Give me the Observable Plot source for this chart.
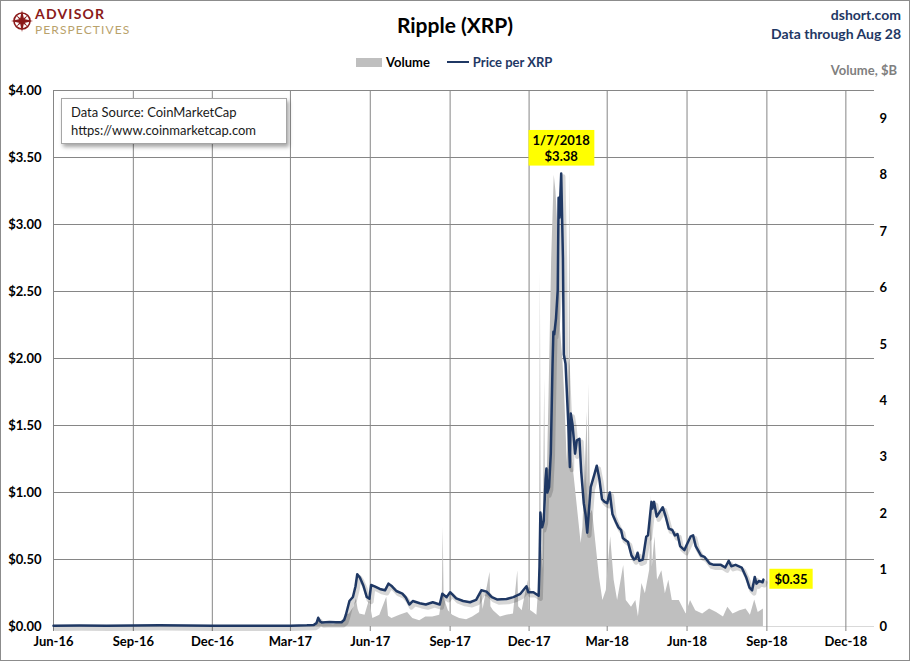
<!DOCTYPE html>
<html>
<head>
<meta charset="utf-8">
<script src="https://cdn.jsdelivr.net/npm/d3@7"></script>
<script src="https://cdn.jsdelivr.net/npm/@observablehq/plot@0.6"></script>
<style>
  html, body { margin: 0; padding: 0; background: #fff; }
  body { font-family: Lato, "Open Sans", "DejaVu Sans", sans-serif; }
  #wrap { position: relative; width: 908px; height: 659px; border: 1px solid #8c8c8c; background: #fff; overflow: hidden; }
  #header { position: relative; height: 80px; }
  .abs { position: absolute; white-space: nowrap; }
  #title { left: 0; width: 908px; top: 11px; text-align: center; font-size: 21px; font-weight: bold; color: #000; }
  #site { right: 8px; top: 4px; text-align: right; font-size: 14px; font-weight: bold; color: #1f3864; line-height: 19px; }
  #legend { left: 355px; top: 53px; font-size: 13px; font-weight: bold; display: flex; align-items: center; }
  #voltitle { right: 12px; top: 61px; font-size: 13px; font-weight: bold; color: #7f7f7f; }
  #source { left: 60px; top: 97px; width: 226px; height: 46px; border: 1px solid #a6a6a6; background: #fff;
            box-shadow: 2px 3px 4px rgba(0,0,0,0.35); font-size: 13px; color: #1a1a1a; line-height: 18px;
            padding: 4px 0 0 9px; box-sizing: border-box; z-index: 2; }
  #chart { position: relative; }
</style>
</head>
<body>
<div id="wrap">
  <div id="header">
    <div class="abs" style="left:10px;top:9px;">
      <svg width="22" height="22" viewBox="-11 -11 22 22">
        <circle r="8" fill="none" stroke="#8b1a1a" stroke-width="1.6"/>
        <polygon points="0,-11 2,-2 11,0 2,2 0,11 -2,2 -11,0 -2,-2" fill="#8b1a1a"/>
        <polygon points="-6,-6 0,-1.5 6,-6 1.5,0 6,6 0,1.5 -6,6 -1.5,0" fill="#8b1a1a"/>
      </svg>
    </div>
    <div class="abs" style="left:34px;top:4px;font-size:14px;line-height:17px;font-weight:bold;color:#8b1a1a;letter-spacing:1.2px;">ADVISOR</div>
    <div class="abs" style="left:34px;top:22px;font-size:12px;line-height:14px;color:#b9a26b;letter-spacing:1.1px;">PERSPECTIVES</div>
    <div class="abs" id="title">Ripple (XRP)</div>
    <div class="abs" id="site">dshort.com<br>Data through Aug 28</div>
    <div class="abs" id="legend">
      <span style="display:inline-block;width:26px;height:9px;background:#bfbfbf;margin-right:4px;"></span>
      <span style="color:#000;">Volume</span>
      <span style="display:inline-block;width:22px;height:2px;background:#1f3864;margin-left:17px;margin-right:4px;"></span>
      <span style="color:#1f3864;">Price per XRP</span>
    </div>
    <div class="abs" id="voltitle">Volume, $B</div>
  </div>
  <div class="abs" id="source">Data Source: CoinMarketCap<br>https://www.coinmarketcap.com</div>
  <div id="chart"></div>
</div>
<script>
// ---- data ----
const xTicks = ["2016-06-01","2016-09-01","2016-12-01","2017-03-01","2017-06-01","2017-09-01","2017-12-01","2018-03-01","2018-06-01","2018-09-01","2018-12-01"];
const xDomain = ["2016-06-01","2019-01-03"];
const leftTicks = [0, 0.5, 1, 1.5, 2, 2.5, 3, 3.5, 4];
const rightTicks = [0, 1, 2, 3, 4, 5, 6, 7, 8, 9];
const priceMax = 4;
const volMax = 9.5;

const priceDates = [
"2016-06-01","2016-07-01","2016-08-01","2016-09-01","2016-10-01","2016-11-01","2016-12-01","2017-01-01","2017-02-01","2017-03-01",
"2017-03-20","2017-03-28","2017-03-31","2017-04-02","2017-04-04","2017-04-06","2017-04-15","2017-04-22","2017-04-29","2017-05-02",
"2017-05-04","2017-05-08","2017-05-12","2017-05-15","2017-05-17","2017-05-20","2017-05-24","2017-05-28","2017-05-31","2017-06-02",
"2017-06-06","2017-06-12","2017-06-18","2017-06-22","2017-06-26","2017-07-01","2017-07-08","2017-07-12","2017-07-16","2017-07-20",
"2017-07-28","2017-08-04","2017-08-12","2017-08-20","2017-08-23","2017-08-28","2017-09-01","2017-09-08","2017-09-16","2017-09-24",
"2017-10-01","2017-10-07","2017-10-13","2017-10-19","2017-10-25","2017-11-05","2017-11-13","2017-11-21","2017-11-28","2017-11-30",
"2017-12-06","2017-12-12","2017-12-13","2017-12-14","2017-12-15","2017-12-16","2017-12-18","2017-12-20","2017-12-21","2017-12-22",
"2017-12-24","2017-12-26","2017-12-28","2017-12-29","2017-12-30","2018-01-01","2018-01-03","2018-01-04","2018-01-05","2018-01-07",
"2018-01-09","2018-01-10","2018-01-12","2018-01-15","2018-01-17","2018-01-18","2018-01-20","2018-01-23","2018-01-25","2018-01-28",
"2018-01-30","2018-02-02","2018-02-04","2018-02-06","2018-02-08","2018-02-10","2018-02-14","2018-02-17","2018-02-20","2018-02-23",
"2018-02-26","2018-03-01","2018-03-04","2018-03-07","2018-03-11","2018-03-14","2018-03-17","2018-03-19","2018-03-21","2018-03-25",
"2018-03-29","2018-04-01","2018-04-03","2018-04-05","2018-04-07","2018-04-11","2018-04-15","2018-04-17","2018-04-21","2018-04-22",
"2018-04-24","2018-04-27","2018-04-30","2018-05-04","2018-05-07","2018-05-11","2018-05-15","2018-05-18","2018-05-21","2018-05-24",
"2018-05-29","2018-05-31","2018-06-05","2018-06-08","2018-06-11","2018-06-17","2018-06-21","2018-06-27","2018-07-02","2018-07-06",
"2018-07-10","2018-07-15","2018-07-19","2018-07-22","2018-07-27","2018-08-03","2018-08-08","2018-08-12","2018-08-15","2018-08-18",
"2018-08-20","2018-08-23","2018-08-27","2018-08-28"
];
const priceValues = [
0.006,0.0068,0.0065,0.0078,0.0088,0.0082,0.0065,0.0064,0.0063,0.0064,
0.0085,0.012,0.025,0.065,0.04,0.03,0.033,0.031,0.032,0.05,
0.09,0.19,0.22,0.30,0.39,0.365,0.306,0.22,0.207,0.31,
0.30,0.28,0.27,0.32,0.30,0.265,0.245,0.215,0.164,0.19,
0.174,0.164,0.181,0.164,0.244,0.219,0.256,0.21,0.19,0.181,
0.199,0.27,0.26,0.219,0.202,0.205,0.219,0.244,0.30,0.256,
0.256,0.23,0.45,0.85,0.78,0.74,0.79,1.10,1.18,1.00,
1.04,1.29,1.95,2.20,2.18,2.30,2.51,3.20,3.05,3.38,
2.75,2.03,1.96,1.54,1.19,1.59,1.51,1.29,1.39,1.40,
1.16,0.92,0.84,0.70,0.87,1.04,1.13,1.20,1.10,0.95,
0.93,0.92,1.00,0.84,0.78,0.74,0.72,0.66,0.65,0.63,
0.53,0.50,0.51,0.55,0.49,0.50,0.67,0.68,0.93,0.88,
0.93,0.82,0.85,0.89,0.83,0.73,0.72,0.68,0.69,0.60,
0.57,0.60,0.67,0.68,0.60,0.53,0.52,0.47,0.46,0.46,
0.46,0.44,0.49,0.45,0.46,0.44,0.37,0.29,0.27,0.37,
0.32,0.34,0.33,0.35
];

const volDates = [
"2016-06-01","2016-12-01","2017-03-01","2017-03-25","2017-03-31","2017-04-02","2017-04-05","2017-04-20","2017-04-30","2017-05-04",
"2017-05-08","2017-05-13","2017-05-16","2017-05-18","2017-05-20","2017-05-26","2017-05-31","2017-06-04","2017-06-12","2017-06-20",
"2017-06-22","2017-06-26","2017-07-05","2017-07-14","2017-07-20","2017-07-28","2017-08-04","2017-08-12","2017-08-20","2017-08-23",
"2017-08-24","2017-08-25","2017-08-26","2017-08-30","2017-09-04","2017-09-12","2017-09-20","2017-09-27","2017-10-05","2017-10-07",
"2017-10-09","2017-10-17","2017-10-18","2017-10-21","2017-10-29","2017-11-05","2017-11-13","2017-11-18","2017-11-19","2017-11-23",
"2017-11-30","2017-12-01","2017-12-06","2017-12-10","2017-12-13","2017-12-14","2017-12-15","2017-12-17","2017-12-19","2017-12-20",
"2017-12-21","2017-12-24","2017-12-27","2017-12-30","2018-01-01","2018-01-03","2018-01-05","2018-01-06","2018-01-09","2018-01-11",
"2018-01-14","2018-01-16","2018-01-17","2018-01-18","2018-01-22","2018-01-26","2018-01-30","2018-02-01","2018-02-04","2018-02-06",
"2018-02-07","2018-02-08","2018-02-10","2018-02-12","2018-02-16","2018-02-20","2018-02-24","2018-02-28","2018-03-05","2018-03-09",
"2018-03-13","2018-03-20","2018-03-23","2018-03-29","2018-04-03","2018-04-06","2018-04-10","2018-04-14","2018-04-19","2018-04-21",
"2018-04-22","2018-04-25","2018-04-28","2018-05-03","2018-05-07","2018-05-11","2018-05-15","2018-05-23","2018-05-31","2018-06-05",
"2018-06-11","2018-06-19","2018-06-27","2018-07-05","2018-07-13","2018-07-18","2018-07-24","2018-08-01","2018-08-08","2018-08-13",
"2018-08-18","2018-08-22","2018-08-28"
];
const volValues = [
0.001,0.001,0.002,0.01,0.05,0.14,0.05,0.03,0.10,0.20,
0.22,0.34,0.49,0.30,0.22,0.20,0.46,0.14,0.20,0.52,
0.18,0.14,0.20,0.25,0.14,0.10,0.17,0.17,0.20,0.50,
1.76,0.60,0.46,0.28,0.20,0.14,0.12,0.17,0.25,0.70,
0.30,0.96,0.35,0.28,0.17,0.20,0.22,0.99,0.35,0.28,
0.82,0.30,0.25,0.20,0.90,6.30,1.50,1.00,4.40,1.80,
2.00,4.10,6.50,8.00,7.70,7.10,6.80,5.30,4.70,4.10,
2.90,4.10,8.15,3.20,2.65,2.06,1.47,1.76,2.90,3.80,
2.50,4.30,2.00,2.06,1.47,0.88,0.46,0.64,1.59,0.82,
0.46,1.08,0.46,0.34,0.46,0.17,0.76,0.58,1.00,2.33,
1.05,1.59,0.82,0.99,0.58,0.82,0.46,0.46,0.22,0.46,
0.28,0.22,0.31,0.25,0.17,0.34,0.22,0.28,0.31,0.20,
0.47,0.25,0.31
];

// ---- build ----
const parse = d3.utcParse("%Y-%m-%d");
const price = priceDates.map((d, i) => ({date: parse(d), value: priceValues[i]}));
const volume = volDates.map((d, i) => ({date: parse(d), value: volValues[i]}));
const xTickDates = xTicks.map(parse);
const k = priceMax / volMax;
const peak = price.reduce((a, b) => (b.value > a.value ? b : a));
const last = price[price.length - 1];
const navy = "#1f3864";
const gridColor = "#868686";

const chart = Plot.plot({
  width: 908,
  height: 578,
  marginTop: 9,
  marginBottom: 33,
  marginLeft: 52,
  marginRight: 35,
  style: {fontFamily: "Lato, 'Open Sans', sans-serif", fontSize: "13px", fontWeight: "bold", color: "#000", background: "white", overflow: "visible"},
  x: {type: "utc", domain: xDomain.map(parse)},
  y: {domain: [0, priceMax]},
  marks: [
    Plot.gridX(xTickDates, {stroke: gridColor, strokeOpacity: 1}),
    Plot.gridY(leftTicks.filter(d => d > 0), {stroke: gridColor, strokeOpacity: 1}),
    Plot.areaY(volume, {x: "date", y: d => d.value * k, fill: "#bfbfbf"}),
    Plot.ruleY([0], {stroke: "#d9d9d9"}),
    Plot.axisX(xTickDates, {tickFormat: d3.utcFormat("%b-%y"), tickSize: 5, tickPadding: 5, stroke: gridColor, label: null}),
    Plot.axisY(leftTicks, {anchor: "left", tickSize: 0, tickPadding: 12, tickFormat: d => "$" + d.toFixed(2), label: null}),
    Plot.axisY(rightTicks.map(v => v * k), {anchor: "right", tickSize: 0, tickPadding: 5, tickFormat: d => String(Math.round(d / k)), label: null}),
    Plot.line(price, {x: "date", y: "value", stroke: "#000", strokeOpacity: 0.16, strokeWidth: 4.5, dx: 2, dy: 3}),
    Plot.line(price, {x: "date", y: "value", stroke: navy, strokeWidth: 2.5}),
    Plot.text([peak], {x: "date", y: "value", text: d => d3.utcFormat("%-m/%-d/%Y")(d.date) + "\n$" + d.value.toFixed(2), lineAnchor: "bottom", lineHeight: 1.2, dy: -13, fill: "#000", fontSize: 13}),
    Plot.text([last], {x: "date", y: "value", text: d => "$" + d.value.toFixed(2), textAnchor: "start", dx: 11, fill: "#000", fontSize: 13})
  ]
});
document.getElementById("chart").appendChild(chart);

// yellow label backgrounds
const labelTexts = [d3.utcFormat("%-m/%-d/%Y")(peak.date), "$" + last.value.toFixed(2)];
chart.querySelectorAll("g[aria-label='text'] text").forEach(t => {
  const s = t.textContent;
  const isPeak = s.startsWith(labelTexts[0]);
  const isLast = s === labelTexts[1];
  if (isPeak || isLast) {
    const b = t.getBBox();
    const r = document.createElementNS("http://www.w3.org/2000/svg", "rect");
    const px = isPeak ? 4 : 5, py = 2;
    r.setAttribute("x", b.x - px);
    r.setAttribute("y", b.y - py);
    r.setAttribute("width", b.width + 2 * px);
    r.setAttribute("height", b.height + 2 * py);
    r.setAttribute("fill", "#ffff00");
    const tr = t.getAttribute("transform");
    if (tr) r.setAttribute("transform", tr);
    t.parentNode.insertBefore(r, t);
  }
});
</script>
</body>
</html>
